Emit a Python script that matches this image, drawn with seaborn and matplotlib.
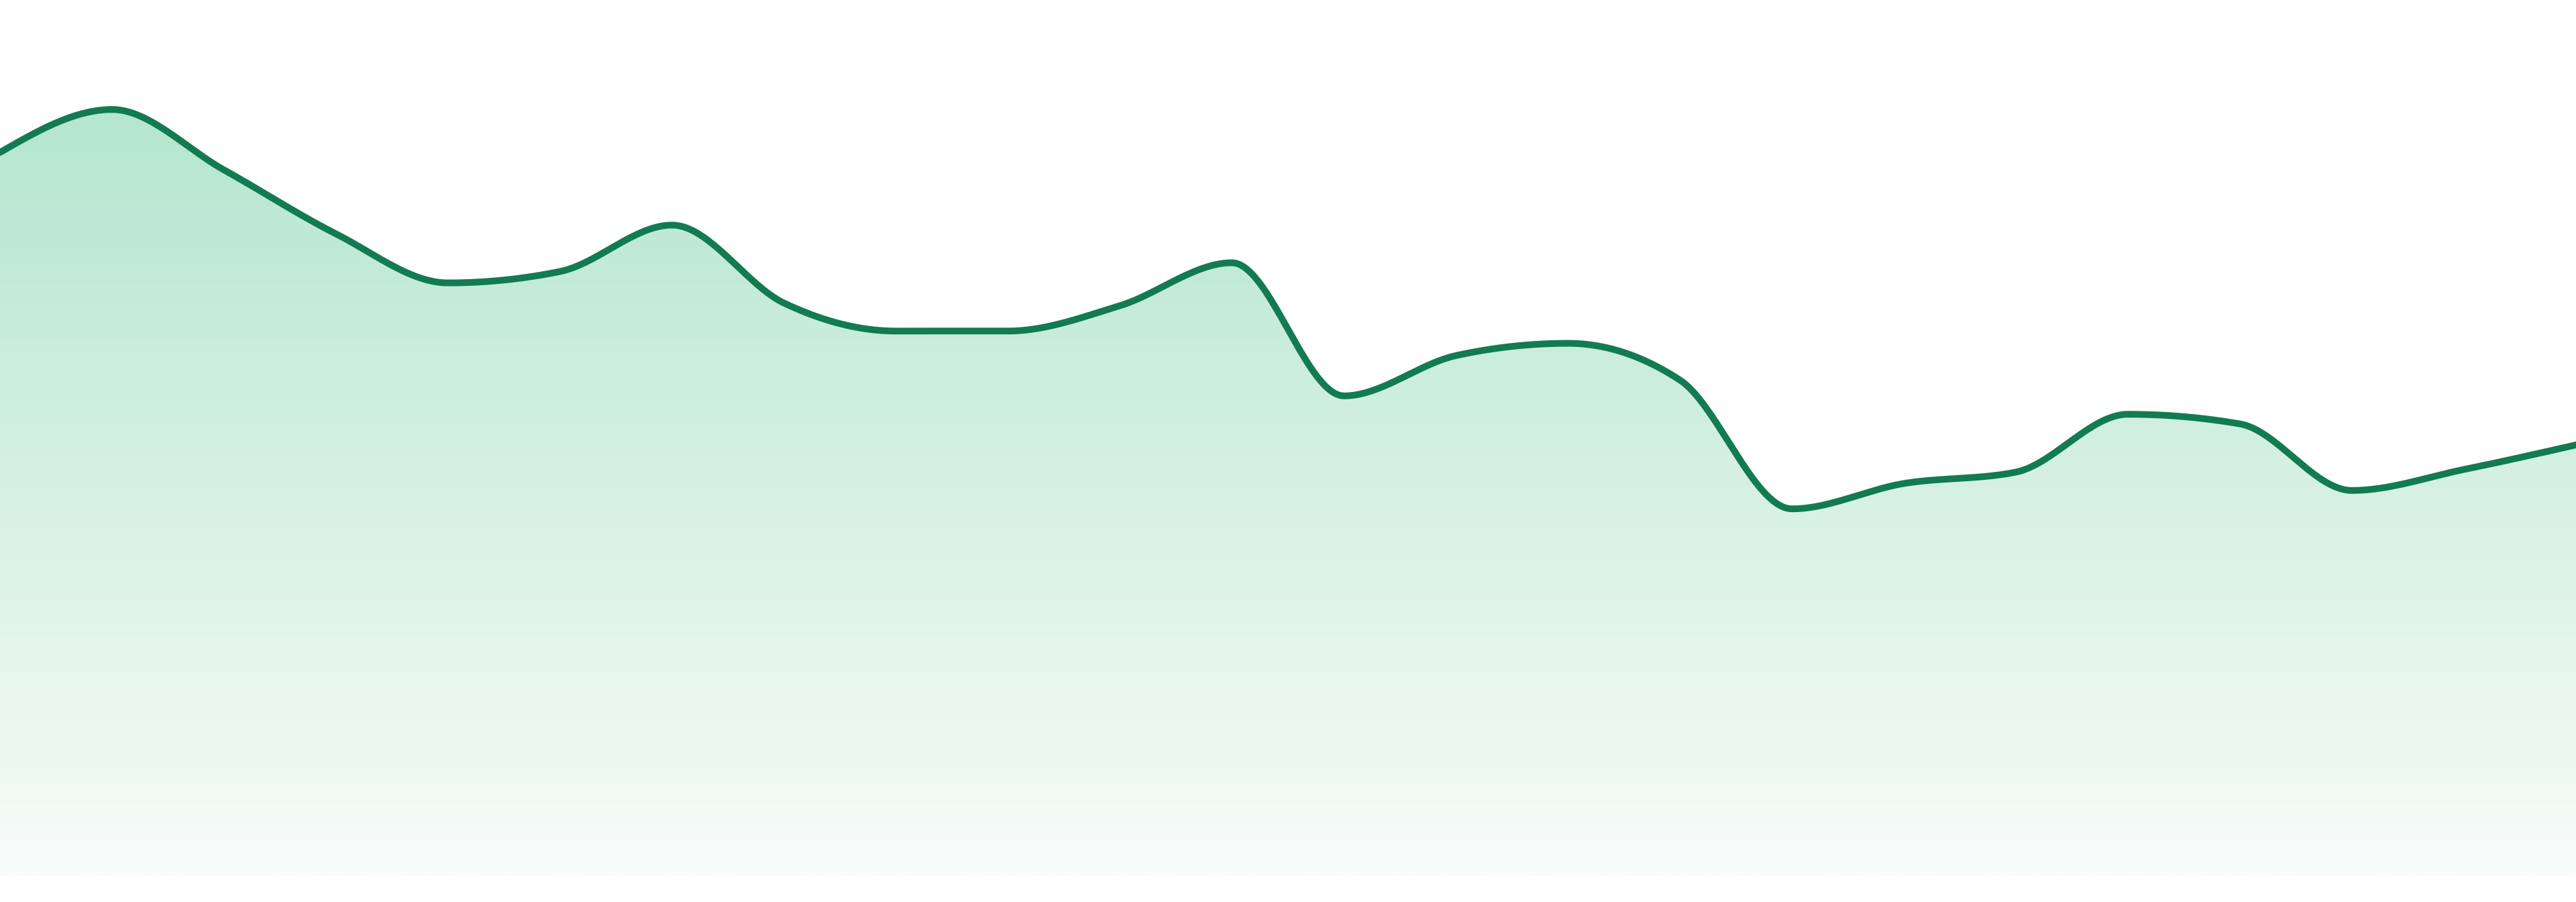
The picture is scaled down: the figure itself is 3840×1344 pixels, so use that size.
import numpy as np
import pandas as pd
import matplotlib
matplotlib.use("Agg")
import matplotlib.pyplot as plt
from matplotlib.colors import LinearSegmentedColormap
import seaborn as sns

# ---- data ----
points = list(range(24))
values = [82.6, 87.5, 80.6, 73.3, 67.7, 69.0, 74.3, 65.4, 62.2, 62.2, 65.1, 70.0,
          54.8, 59.4, 60.8, 56.6, 41.9, 44.8, 46.1, 52.7, 51.6, 44.0, 46.4, 49.2]

LINE_COLOR = "#127B51"
FILL_TOP = "#B5E6CE"
FILL_BOTTOM = "#F8FCFA"


def monotone_x(x, y, n=40):
    """Monotone cubic interpolation (same as d3.curveMonotoneX)."""
    x = np.asarray(x, float)
    y = np.asarray(y, float)
    h = np.diff(x)
    s = np.diff(y) / h
    t = np.zeros_like(y)
    for i in range(1, len(y) - 1):
        h0, h1 = h[i - 1], h[i]
        s0, s1 = s[i - 1], s[i]
        p = (s0 * h1 + s1 * h0) / (h0 + h1)
        t[i] = (np.sign(s0) + np.sign(s1)) * min(abs(s0), abs(s1), 0.5 * abs(p))
    t[0] = (3 * s[0] - t[1]) / 2
    t[-1] = (3 * s[-1] - t[-2]) / 2
    xs, ys = [], []
    for i in range(len(x) - 1):
        u = np.linspace(0, 1, n, endpoint=False)
        h00 = 2 * u**3 - 3 * u**2 + 1
        h10 = u**3 - 2 * u**2 + u
        h01 = -2 * u**3 + 3 * u**2
        h11 = u**3 - u**2
        xs.append(x[i] + u * h[i])
        ys.append(h00 * y[i] + h10 * h[i] * t[i] + h01 * y[i + 1] + h11 * h[i] * t[i + 1])
    xs.append([x[-1]])
    ys.append([y[-1]])
    return np.concatenate(xs), np.concatenate(ys)


sx, sy = monotone_x(points, values)
df = pd.DataFrame({"x": sx, "y": sy})

sns.set_theme(style="white")
fig = plt.figure(figsize=(38.4, 13.44), dpi=100)
ax = fig.add_axes([0, 39 / 1344, 1, 1305 / 1344])
ax.set_xlim(points[0], points[-1])
ax.set_ylim(0, 100)
ax.axis("off")

# gradient fill clipped to area under curve
poly = ax.fill_between(sx, 0, sy, color="none", linewidth=0)
cmap = LinearSegmentedColormap.from_list("g", [FILL_BOTTOM, FILL_TOP])
top = max(values)
grad = np.linspace(0, 1, 512).reshape(-1, 1)
img = ax.imshow(grad, cmap=cmap, aspect="auto", origin="lower",
                extent=[points[0], points[-1], 0, top], zorder=1)
path = poly.get_paths()[0]
img.set_clip_path(path, transform=ax.transData)

sns.lineplot(data=df, x="x", y="y", ax=ax, color=LINE_COLOR, linewidth=7.2,
             sort=False, zorder=3)
ax.set_xlim(points[0], points[-1])
ax.set_ylim(0, 100)
ax.axis("off")

fig.savefig("out.png", dpi=100, facecolor="white")
